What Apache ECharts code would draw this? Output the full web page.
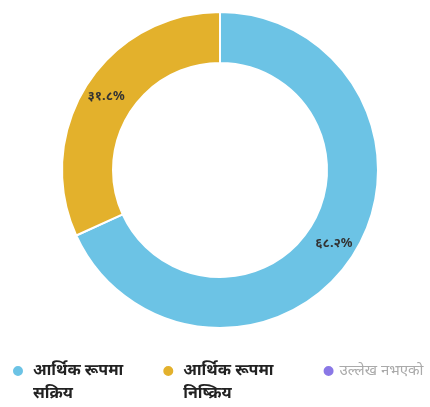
<!DOCTYPE html>
<html><head><meta charset="utf-8">
<script src="https://cdn.jsdelivr.net/npm/echarts@6/dist/echarts.min.js"></script>
<style>html,body{margin:0;padding:0;background:#fff}#c{width:430px;height:407px}</style>
</head><body><div id="c"></div>
<script>
const categories = ['आर्थिक रूपमा\nसक्रिय', 'आर्थिक रूपमा\nनिष्क्रिय', 'उल्लेख नभएको'];
const values = [68.2, 31.8, 0];
const labels = ['६८.२%', '३१.८%', ''];
const colors = ['#6cc3e5', '#e3b12c', '#8a78e6'];

// dot placed near the top of a tall invisible box so it lines up with the first text line
const topDot = 'path://M0,0M12,46M6,6A6,6 0 1,1 5.99,6Z';

const chart = echarts.init(document.getElementById('c'));
chart.setOption({
  animation: false,
  color: colors,
  legend: {
    top: 353, left: 6,
    itemGap: 38,
    icon: topDot, itemWidth: 12, itemHeight: 46,
    formatter: n => n.indexOf('\n') >= 0 ? n : n + '\n ',
    textStyle: { fontFamily: 'Noto Sans', fontSize: 16, fontWeight: 'bold', color: '#222', lineHeight: 23, padding: [0, 0, 0, 4] },
    data: [
      { name: categories[0] },
      { name: categories[1], textStyle: { padding: [0, 10, 0, 4] } },
      { name: categories[2], textStyle: { color: '#aaa', fontWeight: 'normal', fontSize: 15, lineHeight: 23, padding: [0, 0, 0, 0] } }
    ]
  },
  series: [{
    type: 'pie',
    center: [220, 170],
    radius: [107, 158],
    startAngle: 90,
    clockwise: true,
    avoidLabelOverlap: false,
    itemStyle: { borderColor: '#fff', borderWidth: 2 },
    label: {
      show: true, position: 'inside',
      formatter: p => labels[p.dataIndex],
      fontFamily: 'Noto Sans', fontSize: 13, fontWeight: 'bold', color: '#333'
    },
    labelLine: { show: false },
    data: categories.map((n, i) => ({ name: n, value: values[i] }))
  }]
});
</script></body></html>
